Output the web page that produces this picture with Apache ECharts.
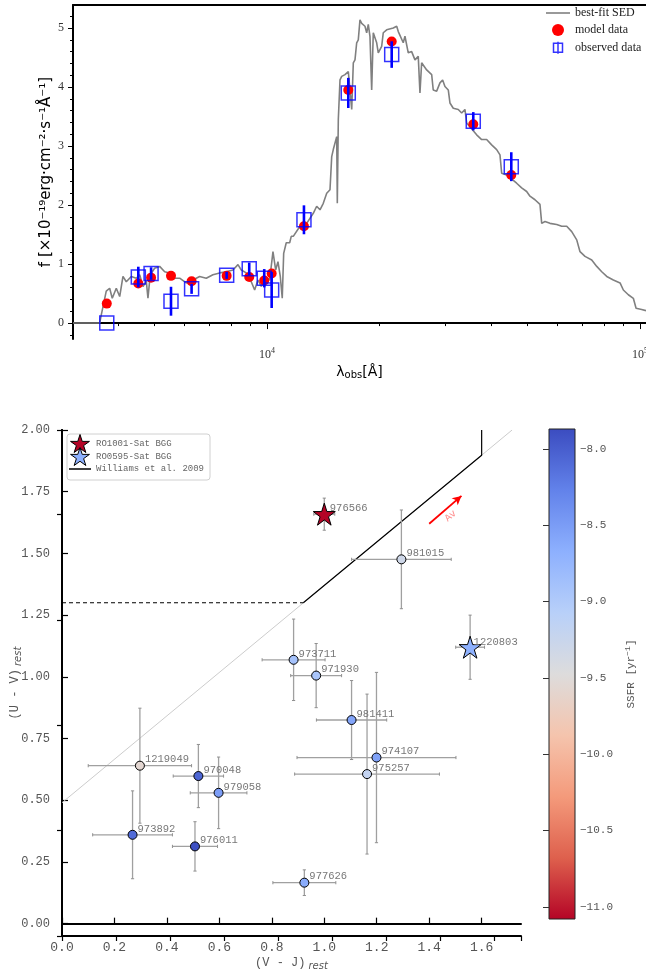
<!DOCTYPE html>
<html><head><meta charset="utf-8">
<script src="https://cdn.jsdelivr.net/npm/echarts@6/dist/echarts.min.js"></script>
<style>html,body{margin:0;padding:0;background:#fff}#c{width:646px;height:971px}</style>
</head><body><div id="c"></div>
<script>
// ================= SED panel data =================
const sedWave = [3020,3561,3596,3708,3787,3848,3945,4029,4111,4196,4328,4464,4558,4653,4748,4797,4865,4999,5156,5318,5485,5598,5834,6076,6331,6599,6874,7164,7467,7778,8106,8362,8533,8800,9077,9268,9460,9654,9858,10167,10378,10552,10703,10857,10990,11087,11265,11506,11618,11763,12260,12778,13311,13593,13873,14158,14461,14757,14914,15060,15382,15439,15535,15697,15864,16189,16524,16874,17042,17218,17400,17574,17757,17946,18313,18508,18692,18887,19088,19277,19686,19882,20302,20504,20939,21811,22273,22495,22731,23196,23442,23923,24430,24934,25446,25716,25984,26804,27644,27913,28510,29094,29581,30006,30627,30946,31587,32577,33266,33948,34310,36490,37633,38813,40031,41287,42142,42582,43918,46709,48175,49687,50716,52306,53947,54522,55637,57383,59816,61693,63628,65625,67683,69069,71240,74256,76586,78989,81467,84854,88443,90253,93081,95997,97622,101060,103780];
const sedFlux = [0,0,0.14,0.54,0.59,0.42,0.59,0.45,0.79,0.70,0.79,0.76,0.82,0.62,0.71,0.42,0.82,0.93,0.96,0.87,0.85,0.76,0.76,0.68,0.73,0.79,0.76,0.82,0.85,0.87,0.90,0.99,0.90,0.85,0.70,0.56,0.73,0.62,0.79,0.73,1.21,0.90,1.04,0.79,0.42,1.18,1.36,1.36,1.47,1.47,1.64,1.69,1.86,1.98,1.92,2.03,2.20,2.26,2.82,2.94,3.16,2.03,3.45,4.12,4.18,4.21,4.26,3.62,4.41,4.46,4.75,4.80,5.14,5.08,5.03,4.92,5.06,4.86,3.95,4.92,4.75,4.58,4.69,4.92,4.97,5.00,5.03,4.94,4.97,4.75,4.86,4.58,4.60,4.46,4.52,3.90,4.41,4.29,4.21,3.95,3.93,4.07,4.12,4.01,3.95,3.73,3.64,3.62,3.56,3.62,3.39,3.19,3.11,3.11,3.02,2.94,2.85,2.54,2.51,2.37,2.29,2.23,2.15,2.09,2.01,1.69,1.72,1.69,1.67,1.64,1.64,1.55,1.41,1.21,1.13,1.07,0.96,0.87,0.79,0.73,0.68,0.56,0.48,0.42,0.25,0.23,0.21];
const filterWave = [3720,4520,4890,5530,6280,7798,8963,9834,10295,12566,16520,21598,35736,45186];
const modelFlux = [0.33,0.67,0.77,0.80,0.71,0.80,0.78,0.72,0.84,1.64,3.95,4.77,3.37,2.51];
const obsFlux = [0.00,0.78,0.84,0.37,0.58,0.81,0.92,0.76,0.56,1.75,3.90,4.55,3.42,2.65];
const obsErr = [0.00,0.175,0.105,0.245,0.085,0.06,0.105,0.155,0.305,0.245,0.255,0.225,0.155,0.245];
const fluxTicks = [0,1,2,3,4,5];
const fluxMinorTicks = [-0.2,0.2,0.4,0.6,0.8,1.2,1.4,1.6,1.8,2.2,2.4,2.6,2.8,3.2,3.4,3.6,3.8,4.2,4.4,4.6,4.8,5.2];
const waveMajorTicks = [10000,100000];
const waveMinorTicks = [4000,5000,6000,7000,8000,9000,20000,30000,40000,50000,60000,70000,80000,90000];

// ================= UVJ panel data =================
const galaxyIds = ['976566','1220803','981015','973711','971930','981411','974107','975257','977626','1219049','970048','979058','973892','976011'];
const galaxyGroup = ['RO1001-Sat BGG','RO0595-Sat BGG','member','member','member','member','member','member','member','member','member','member','member','member'];
const vjColor = [1.000,1.556,1.294,0.883,0.969,1.104,1.199,1.163,0.924,0.297,0.520,0.597,0.269,0.507];
const uvColor = [1.659,1.120,1.476,1.069,1.005,0.825,0.673,0.606,0.166,0.640,0.598,0.530,0.360,0.313];
const vjErr = [0.040,0.055,0.190,0.120,0.097,0.134,0.303,0.276,0.120,0.197,0.096,0.108,0.152,0.086];
const uvErr = [0.065,0.130,0.200,0.165,0.130,0.160,0.345,0.324,0.052,0.233,0.128,0.145,0.178,0.100];
const ssfr = [-11.08,-8.68,-9.31,-8.90,-8.93,-8.58,-8.54,-9.19,-8.64,-9.57,-8.06,-8.51,-8.09,-7.90];
const williamsDashX = [0,0.92], williamsDashY = [1.3,1.3];
const williamsX = [0.92,1.6,1.6], williamsY = [1.3,1.898,2.0];
const extensionX = [0,1.716], extensionY = [0.49,2.0];
const avVector = [[1.40,1.62],[1.523,1.733]];
const vjTicks = [0,0.2,0.4,0.6,0.8,1.0,1.2,1.4,1.6];
const uvTicks = [0,0.25,0.5,0.75,1.0,1.25,1.5,1.75,2.0];
const ssfrTicks = [-11,-10.5,-10,-9.5,-9,-8.5,-8];
const ssfrMin = -11.08, ssfrMax = -7.87;
const coolwarmLowToHigh = ['#b40426','#de604d','#f49a7b','#f5c4ad','#dddcdc','#b8d0f9','#8db0fe','#6282ea','#3b4cc0'];

// ================= build =================
const chart = echarts.init(document.getElementById('c'), null, {renderer:'canvas', width:646, height:971});
const serif = 'Liberation Serif, DejaVu Serif, serif';
const mono = 'Liberation Mono, DejaVu Sans Mono, monospace';
const sans = 'DejaVu Sans, sans-serif';
const starPath = 'path://M0,-10L2.245,-3.09L9.511,-3.09L3.633,1.18L5.878,8.09L0,3.82L-5.878,8.09L-3.633,1.18L-9.511,-3.09L-2.245,-3.09Z';
const obsIcon = 'path://M0,0H12V12H0Z M6,-2V14';
const lineIcon = 'path://M0,0H24V1.6H0Z';
const lineIconTall = 'path://M0,8.2H22V9.8H0Z M0,0L0.01,0 M0,18L0.01,18';

const sedData = sedWave.map((w,i)=>[w,sedFlux[i]]);
const modelData = filterWave.map((w,i)=>[w,modelFlux[i]]);
const obsData = filterWave.map((w,i)=>[w,obsFlux[i],obsErr[i]]);
const galaxyData = g => galaxyIds.map((id,i)=>({i,id})).filter(o=>galaxyGroup[o.i]===g)
  .map(o=>[vjColor[o.i],uvColor[o.i],ssfr[o.i],o.id]);
const errData = galaxyIds.map((id,i)=>[vjColor[i],uvColor[i],vjErr[i],uvErr[i]]);

const waveMin = 3020, waveMax = 103800, fluxMin = -0.27, fluxMax = 5.39;

function sedErrRender(params, api){
  const w = api.value(0), f = api.value(1), e = api.value(2);
  if (!e) return null;
  const a = api.coord([w,f-e]), b = api.coord([w,f+e]);
  return {type:'line', shape:{x1:a[0],y1:a[1],x2:b[0],y2:b[1]}, style:{stroke:'#0000ff', lineWidth:2.6}};
}
function uvjErrRender(params, api){
  const x = api.value(0), y = api.value(1), ex = api.value(2), ey = api.value(3);
  const l = api.coord([x-ex,y]), r = api.coord([x+ex,y]);
  const t = api.coord([x,y+ey]), b = api.coord([x,y-ey]);
  const st = {stroke:'#a0a0a0', lineWidth:1.3};
  const cs = {stroke:'#909090', lineWidth:1};
  const c = 1.6;
  return {type:'group', children:[
    {type:'line', shape:{x1:l[0],y1:l[1],x2:r[0],y2:r[1]}, style:st},
    {type:'line', shape:{x1:t[0],y1:t[1],x2:b[0],y2:b[1]}, style:st},
    {type:'line', shape:{x1:l[0],y1:l[1]-c,x2:l[0],y2:l[1]+c}, style:cs},
    {type:'line', shape:{x1:r[0],y1:r[1]-c,x2:r[0],y2:r[1]+c}, style:cs},
    {type:'line', shape:{x1:t[0]-c,y1:t[1],x2:t[0]+c,y2:t[1]}, style:cs},
    {type:'line', shape:{x1:b[0]-c,y1:b[1],x2:b[0]+c,y2:b[1]}, style:cs}
  ]};
}

const ptLabel = (off) => ({show:true, position:'right', distance:0, offset:off, formatter:p=>p.data[3],
  fontFamily:mono, fontSize:10.5, color:'#777'});

const option = {
  backgroundColor:'#fff',
  animation:false,
  grid:[
    {left:73, top:5, width:573, height:334, outerBoundsMode:'none'},
    {left:62, top:430, width:459, height:506, outerBoundsMode:'none'},
    {left:549, top:429, width:26, height:490, outerBoundsMode:'none', show:true, borderColor:'#222', borderWidth:1,
      backgroundColor:{type:'linear', x:0, y:0, x2:0, y2:1,
        colorStops: coolwarmLowToHigh.slice().reverse().map((c,i,a)=>({offset:i/(a.length-1), color:c}))}}
  ],
  xAxis:[
    {type:'log', gridIndex:0, position:'bottom', min:waveMin, max:waveMax, logBase:10,
      axisLine:{lineStyle:{color:'#000', width:2}}, splitLine:{show:false},
      axisTick:{customValues:waveMajorTicks, length:6, lineStyle:{color:'#000', width:1}},
      axisLabel:{customValues:waveMajorTicks, margin:8, color:'#333', fontFamily:serif, fontSize:12,
        formatter:v=>'10{s|'+Math.round(Math.log10(v))+'}', rich:{s:{fontSize:8, fontFamily:serif, color:'#333', padding:[0,0,7,0]}}},
      name:'λ{s|obs}[Å]', nameLocation:'middle', nameGap:26, nameMoveOverlap:false,
      nameTextStyle:{fontFamily:sans, fontSize:14, color:'#000', rich:{s:{fontFamily:sans, fontSize:10, color:'#000', padding:[5,0,0,0]}}}},
    {type:'log', gridIndex:0, position:'bottom', min:waveMin, max:waveMax, logBase:10,
      axisLine:{show:false}, splitLine:{show:false}, axisLabel:{show:false},
      axisTick:{customValues:waveMinorTicks, length:3, lineStyle:{color:'#000', width:1}}},
    {type:'log', gridIndex:0, position:'top', min:waveMin, max:waveMax, logBase:10,
      axisLine:{lineStyle:{color:'#000', width:2}}, splitLine:{show:false}, axisLabel:{show:false}, axisTick:{show:false}},
    {type:'value', gridIndex:1, position:'bottom', min:0, max:1.75,
      axisLine:{lineStyle:{color:'#000', width:2}}, splitLine:{show:false},
      axisTick:{inside:true, customValues:vjTicks, length:6, lineStyle:{color:'#000', width:1.2}},
      axisLabel:{customValues:vjTicks, margin:5, color:'#555', fontFamily:mono, fontSize:13, formatter:v=>v.toFixed(1)},
      name:'(V - J){it|rest}', nameLocation:'middle', nameGap:19, nameMoveOverlap:false,
      nameTextStyle:{fontFamily:mono, fontSize:12, color:'#555', rich:{it:{fontFamily:sans, fontStyle:'italic', fontSize:10, color:'#555', padding:[6,0,0,3]}}}},
    {type:'value', gridIndex:1, position:'top', min:0, max:1.7, interval:0.2,
      axisLine:{lineStyle:{color:'#000', width:2}}, splitLine:{show:false}, axisLabel:{show:false},
      axisTick:{inside:true, length:5, lineStyle:{color:'#000', width:1.2}}},
    {type:'value', gridIndex:2, show:false, min:0, max:1}
  ],
  yAxis:[
    {type:'value', gridIndex:0, position:'left', min:fluxMin, max:fluxMax,
      axisLine:{lineStyle:{color:'#000', width:2}}, splitLine:{show:false},
      axisTick:{customValues:fluxTicks, length:5, lineStyle:{color:'#000', width:1}},
      axisLabel:{customValues:fluxTicks, margin:9, color:'#333', fontFamily:serif, fontSize:12},
      name:'f [×10⁻¹⁹erg·cm⁻²·s⁻¹Å⁻¹]', nameLocation:'middle', nameGap:19, nameRotate:90, nameMoveOverlap:false,
      nameTextStyle:{fontFamily:sans, fontSize:15, color:'#000'}},
    {type:'value', gridIndex:0, position:'left', min:fluxMin, max:fluxMax,
      axisLine:{show:false}, splitLine:{show:false}, axisLabel:{show:false},
      axisTick:{customValues:fluxMinorTicks, length:3, lineStyle:{color:'#000', width:1}}},
    {type:'value', gridIndex:1, position:'left', min:-0.05, max:2.0,
      axisLine:{lineStyle:{color:'#000', width:2}}, splitLine:{show:false},
      axisTick:{inside:true, customValues:uvTicks, length:6, lineStyle:{color:'#000', width:1.2}},
      axisLabel:{customValues:uvTicks, margin:12, color:'#555', fontFamily:mono, fontSize:12, formatter:v=>v.toFixed(2)},
      name:'(U - V){it|rest}', nameLocation:'middle', nameGap:39, nameRotate:90, nameMoveOverlap:false,
      nameTextStyle:{fontFamily:mono, fontSize:12, color:'#555', rich:{it:{fontFamily:sans, fontStyle:'italic', fontSize:10, color:'#555', padding:[6,0,0,3]}}}},
    {type:'value', gridIndex:1, position:'right', min:0, max:2.4, interval:0.5,
      axisLine:{lineStyle:{color:'#000', width:2}}, splitLine:{show:false}, axisLabel:{show:false},
      axisTick:{inside:true, length:5, lineStyle:{color:'#000', width:1.2}}},
    {type:'value', gridIndex:2, position:'right', min:ssfrMin, max:ssfrMax,
      axisLine:{show:false}, splitLine:{show:false},
      axisTick:{inside:true, customValues:ssfrTicks, length:6, lineStyle:{color:'#333', width:1}},
      axisLabel:{customValues:ssfrTicks, margin:5, color:'#555', fontFamily:mono, fontSize:11, formatter:v=>v.toFixed(1).replace('-','−')},
      name:'SSFR [yr{s|−1}]', nameLocation:'middle', nameGap:49, nameRotate:90, nameMoveOverlap:false,
      nameTextStyle:{fontFamily:mono, fontSize:11, color:'#555', rich:{s:{fontFamily:mono, fontSize:8, color:'#555', padding:[0,0,6,0]}}}}
  ],
  visualMap:[{type:'continuous', show:false, min:ssfrMin, max:ssfrMax, dimension:2, seriesIndex:[8,9,10],
    inRange:{color:coolwarmLowToHigh}}],
  legend:[
    {left:546, top:7, orient:'vertical', padding:0, itemWidth:24, itemHeight:12, itemGap:5,
      textStyle:{fontFamily:serif, fontSize:12, color:'#222'},
      data:[{name:'best-fit SED', icon:lineIcon, itemStyle:{color:'#808080'}},
        {name:'model data', icon:'circle', itemStyle:{color:'#ff0000'}},
        {name:'observed data', icon:obsIcon, itemStyle:{color:'rgba(0,0,0,0)', borderColor:'#0000ff', borderWidth:1.5}}]},
    {left:67, top:434, orient:'vertical', padding:[0,6,2,2], itemWidth:22, itemHeight:18, itemGap:-6,
      borderColor:'#d0d0d0', borderWidth:1, borderRadius:3,
      textStyle:{fontFamily:mono, fontSize:9, color:'#666'},
      data:[{name:'RO1001-Sat BGG', icon:starPath, itemStyle:{color:'#b40426', borderColor:'#000', borderWidth:1}},
        {name:'RO0595-Sat BGG', icon:starPath, itemStyle:{color:'#8db0fe', borderColor:'#000', borderWidth:1}},
        {name:'Williams et al. 2009', icon:lineIconTall, itemStyle:{color:'#000', borderWidth:0}}]}
  ],
  series:[
    {name:'best-fit SED', type:'line', xAxisIndex:0, yAxisIndex:0, data:sedData, symbol:'none',
      lineStyle:{color:'#808080', width:1.6}, itemStyle:{color:'#808080'}, z:2},
    {name:'model data', type:'scatter', xAxisIndex:0, yAxisIndex:0, data:modelData, symbol:'circle', symbolSize:10,
      itemStyle:{color:'#ff0000', opacity:1}, z:3},
    {name:'obsErr', type:'custom', xAxisIndex:0, yAxisIndex:0, data:obsData, renderItem:sedErrRender, z:4},
    {name:'observed data', type:'scatter', xAxisIndex:0, yAxisIndex:0, data:obsData, symbol:'rect', symbolSize:14,
      itemStyle:{color:'rgba(0,0,0,0)', borderColor:'#0000ff', borderWidth:1.5}, z:5},
    {name:'extension', type:'line', xAxisIndex:3, yAxisIndex:2, data:extensionX.map((x,i)=>[x,extensionY[i]]),
      symbol:'none', lineStyle:{color:'#cccccc', width:1}, z:1},
    {name:'williamsDash', type:'line', xAxisIndex:3, yAxisIndex:2, data:williamsDashX.map((x,i)=>[x,williamsDashY[i]]),
      symbol:'none', lineStyle:{color:'#000', width:1.1, type:[4,3]}, z:2},
    {name:'Williams et al. 2009', type:'line', xAxisIndex:3, yAxisIndex:2, data:williamsX.map((x,i)=>[x,williamsY[i]]),
      symbol:'none', lineStyle:{color:'#000', width:1.2}, itemStyle:{color:'#000'}, z:2,
      markLine:{silent:true, symbol:['none','arrow'], symbolSize:[7,9],
        lineStyle:{color:'#ff0000', width:1.8, type:'solid'},
        label:{show:true, formatter:'Av', position:'insideMiddleBottom', color:'#ff8c8c', fontFamily:mono, fontSize:10, distance:3},
        data:[[{coord:avVector[0]},{coord:avVector[1]}]]}},
    {name:'errbars', type:'custom', xAxisIndex:3, yAxisIndex:2, data:errData, renderItem:uvjErrRender, z:3},
    {name:'member', type:'scatter', xAxisIndex:3, yAxisIndex:2, data:galaxyData('member'), symbol:'circle', symbolSize:9,
      itemStyle:{borderColor:'#000', borderWidth:1, opacity:1}, label:ptLabel([0,-6]), z:4},
    {name:'RO1001-Sat BGG', type:'scatter', xAxisIndex:3, yAxisIndex:2, data:galaxyData('RO1001-Sat BGG'), symbol:starPath, symbolSize:22,
      itemStyle:{color:'#b40426', borderColor:'#000', borderWidth:1, opacity:1}, label:ptLabel([-6,-6]), z:5},
    {name:'RO0595-Sat BGG', type:'scatter', xAxisIndex:3, yAxisIndex:2, data:galaxyData('RO0595-Sat BGG'), symbol:starPath, symbolSize:22,
      itemStyle:{color:'#8db0fe', borderColor:'#000', borderWidth:1, opacity:1}, label:ptLabel([-8,-5]), z:5}
  ]
};
chart.setOption(option);
</script></body></html>
